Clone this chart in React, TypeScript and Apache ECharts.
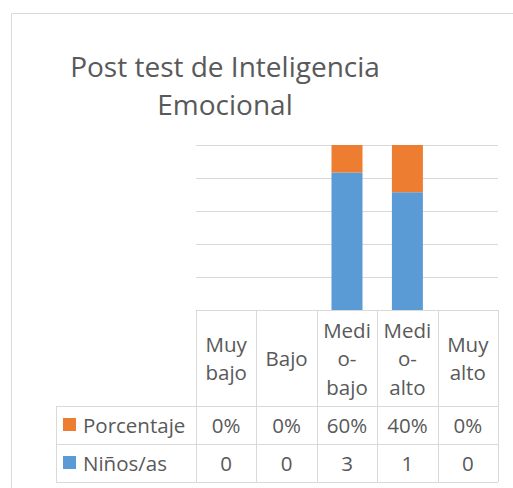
import React, { useEffect, useRef } from "react";
import * as echarts from "echarts";

const categories = ["Muy bajo", "Bajo", "Medio-bajo", "Medio-alto", "Muy alto"];
const headerLabels = ["Muy\nbajo", "Bajo", "Medi\no-\nbajo", "Medi\no-\nalto", "Muy\nalto"];
const ninos = [0, 0, 3, 1, 0];
const porcentaje = [0, 0, 0.6, 0.4, 0];
const seriesNames = ["Porcentaje", "Niños/as"];
const titleText = "Post test de Inteligencia\nEmocional";

const FONT = "'Open Sans', sans-serif";
const GRAY = "#595959";
const LINE = "#d9d9d9";
const BLUE = "#5b9bd5";
const ORANGE = "#ed7d31";

export default function App() {
  const ref = useRef<HTMLDivElement>(null);
  useEffect(() => {
    if (!ref.current) return;
    const chart = echarts.init(ref.current, null, { renderer: "svg" });
    const W = 513, H = 488;
    const gridLeft = 196, gridRight = 498, gridTop = 145, gridBottom = 310;
    const colW = (gridRight - gridLeft) / categories.length;
    const tableLeft = 56;
    const rowHeaderBottom = 406, row1Bottom = 444, row2Bottom = 482;

    const totals = ninos.map((n, i) => n + porcentaje[i]);
    const ninosPct = ninos.map((n, i) => (totals[i] ? (n / totals[i]) * 100 : 0));
    const porcPct = porcentaje.map((p, i) => (totals[i] ? (p / totals[i]) * 100 : 0));

    const lineEl = (x1: number, y1: number, x2: number, y2: number) => ({
      type: "line",
      shape: { x1, y1, x2, y2 },
      style: { stroke: LINE, lineWidth: 1 },
      silent: true,
    });
    const textEl = (text: string, x: number, y: number, align = "center", size = 20.5, lh = 28.5) => ({
      type: "text",
      x,
      y,
      style: {
        text,
        fill: GRAY,
        fontSize: size,
        fontFamily: FONT,
        align,
        verticalAlign: "middle",
        lineHeight: lh,
      },
      silent: true,
    });

    const graphics: any[] = [];
    graphics.push(lineEl(11.5, 13.5, W, 13.5));
    graphics.push(lineEl(11.5, 13.5, 11.5, H));
    graphics.push(textEl(titleText, 225, 85, "center", 28, 38));
    graphics.push(lineEl(gridLeft, gridBottom + 0.5, gridRight, gridBottom + 0.5));
    [rowHeaderBottom, row1Bottom, row2Bottom].forEach((y) =>
      graphics.push(lineEl(tableLeft, y + 0.5, gridRight, y + 0.5))
    );
    graphics.push(lineEl(tableLeft + 0.5, rowHeaderBottom, tableLeft + 0.5, row2Bottom));
    for (let i = 0; i <= categories.length; i++) {
      const x = Math.round(gridLeft + i * colW) + 0.5;
      graphics.push(lineEl(x, gridBottom, x, row2Bottom));
    }
    categories.forEach((_, i) => {
      const cx = gridLeft + (i + 0.5) * colW;
      graphics.push(textEl(headerLabels[i], cx, (gridBottom + rowHeaderBottom) / 2));
      graphics.push(textEl(Math.round(porcentaje[i] * 100) + "%", cx, (rowHeaderBottom + row1Bottom) / 2));
      graphics.push(textEl(String(ninos[i]), cx, (row1Bottom + row2Bottom) / 2));
    });
    graphics.push({ type: "rect", shape: { x: 63, y: 418, width: 13, height: 13 }, style: { fill: ORANGE } });
    graphics.push({ type: "rect", shape: { x: 63, y: 456, width: 13, height: 13 }, style: { fill: BLUE } });
    graphics.push(textEl(seriesNames[0], 83, (rowHeaderBottom + row1Bottom) / 2, "left"));
    graphics.push(textEl(seriesNames[1], 83, (row1Bottom + row2Bottom) / 2, "left"));

    chart.setOption({
      animation: false,
      grid: { left: gridLeft, right: W - gridRight, top: gridTop, bottom: H - gridBottom, containLabel: false },
      xAxis: {
        type: "category",
        data: categories,
        axisLine: { show: false },
        axisTick: { show: false },
        axisLabel: { show: false },
      },
      yAxis: {
        type: "value",
        min: 0,
        max: 100,
        interval: 20,
        axisLabel: { show: false },
        axisLine: { show: false },
        axisTick: { show: false },
        splitLine: { lineStyle: { color: LINE, width: 1 } },
      },
      series: [
        {
          name: seriesNames[1],
          type: "bar",
          stack: "total",
          data: ninosPct,
          barWidth: 31,
          itemStyle: { color: BLUE },
        },
        {
          name: seriesNames[0],
          type: "bar",
          stack: "total",
          data: porcPct,
          barWidth: 31,
          itemStyle: { color: ORANGE },
        },
      ],
      graphic: graphics,
    });
    return () => chart.dispose();
  }, []);
  return (
    <div
      ref={ref}
      style={{ position: "absolute", left: 0, top: 0, width: 513, height: 488, background: "#fff" }}
    />
  );
}
